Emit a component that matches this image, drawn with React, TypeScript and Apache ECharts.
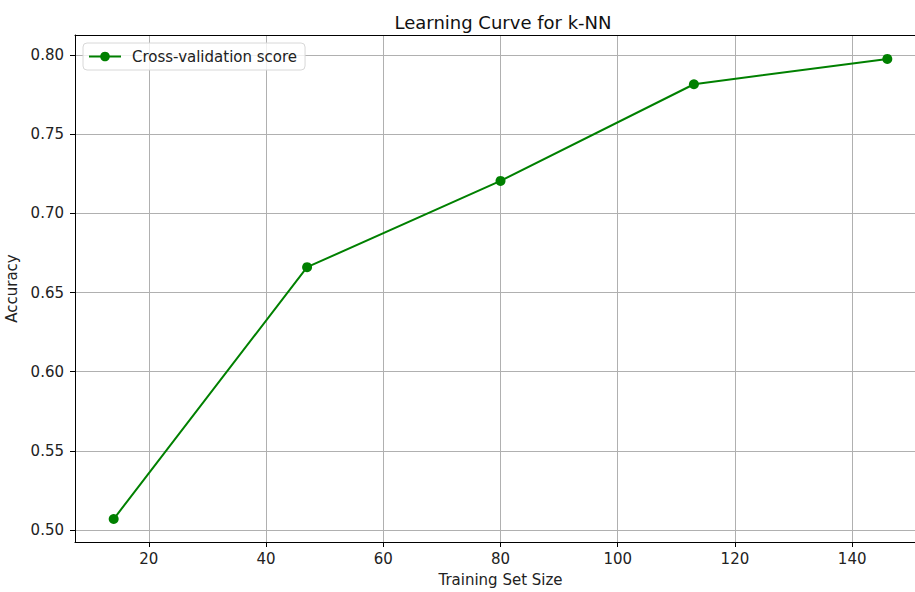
import React, { useEffect, useRef } from "react";
import * as echarts from "echarts";

const trainSizes = [14, 47, 80, 113, 146];
const cvScores = [0.507, 0.666, 0.7205, 0.7815, 0.7975];
const seriesName = "Cross-validation score";
const titleText = "Learning Curve for k-NN";
const xName = "Training Set Size";
const yName = "Accuracy";

const FONT = "DejaVu Sans";
const FS = 15;

export default function App() {
  const ref = useRef<HTMLDivElement>(null);
  useEffect(() => {
    if (!ref.current) return;
    const chart = echarts.init(ref.current, undefined, { renderer: "svg" });
    const data = trainSizes.map((x, i) => [x, cvScores[i]]);
    chart.setOption({
      animation: false,
      backgroundColor: "#fff",
      textStyle: { fontFamily: FONT },
      title: {
        text: titleText,
        left: 498,
        textAlign: "center",
        top: 8,
        textStyle: { fontFamily: FONT, fontSize: 18, fontWeight: "normal", color: "#111" },
      },
      legend: {
        left: 83,
        top: 43,
        padding: [6, 8, 6, 5],
        itemWidth: 32,
        itemHeight: 12,
        borderColor: "#d8d8d8",
        borderWidth: 1,
        borderRadius: 4,
        backgroundColor: "rgba(255,255,255,0.8)",
        textStyle: { fontFamily: FONT, fontSize: FS, color: "#222", padding: [0, 0, 0, 6] },
        data: [seriesName],
      },
      grid: {
        left: 75,
        top: 35,
        width: 851,
        height: 507,
        containLabel: false,
        outerBoundsMode: "none",
      },
      xAxis: [
        {
          type: "value",
          min: 7.4,
          max: 152.6,
          minInterval: 20,
          maxInterval: 20,
          name: xName,
          nameLocation: "middle",
          nameGap: 30,
          nameTextStyle: { fontFamily: FONT, fontSize: FS, color: "#222" },
          axisLine: { show: true, lineStyle: { color: "#000", width: 1 } },
          axisTick: { show: true, length: 5, inside: false, lineStyle: { color: "#000" } },
          axisLabel: {
            showMinLabel: false,
            showMaxLabel: false,
            margin: 9,
            fontFamily: FONT,
            fontSize: FS,
            color: "#222",
            formatter: (v: number) => String(Math.round(v)),
          },
          splitLine: { show: true, lineStyle: { color: "#b0b0b0", width: 1 } },
        },
        {
          type: "value",
          position: "top",
          min: 7.4,
          max: 152.6,
          axisLine: { show: true, onZero: false, lineStyle: { color: "#000", width: 1 } },
          axisTick: { show: false },
          axisLabel: { show: false },
          splitLine: { show: false },
        },
      ],
      yAxis: {
        type: "value",
        min: 0.4925,
        max: 0.8126,
        minInterval: 0.05,
        maxInterval: 0.05,
        name: yName,
        nameLocation: "middle",
        nameGap: 53,
        nameTextStyle: { fontFamily: FONT, fontSize: FS, color: "#222" },
        axisLine: { show: true, lineStyle: { color: "#000", width: 1 } },
        axisTick: { show: true, length: 5, inside: false, lineStyle: { color: "#000" } },
        axisLabel: {
          showMinLabel: false,
          showMaxLabel: false,
          margin: 11,
          fontFamily: FONT,
          fontSize: FS,
          color: "#222",
          formatter: (v: number) => v.toFixed(2),
        },
        splitLine: { show: true, lineStyle: { color: "#b0b0b0", width: 1 } },
      },
      series: [
        {
          name: seriesName,
          type: "line",
          xAxisIndex: 0,
          data,
          symbol: "circle",
          symbolSize: 10,
          showSymbol: true,
          color: "#008000",
          itemStyle: { color: "#008000" },
          lineStyle: { color: "#008000", width: 2 },
        },
      ],
    });
    return () => chart.dispose();
  }, []);
  return (
    <div
      ref={ref}
      style={{ position: "fixed", left: 0, top: 0, width: 915, height: 592 }}
    />
  );
}
